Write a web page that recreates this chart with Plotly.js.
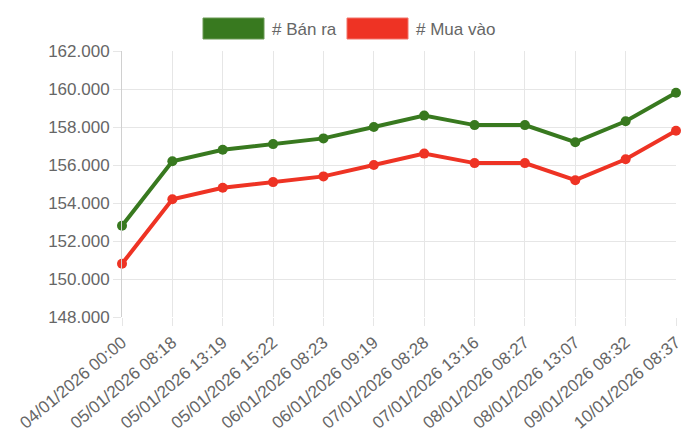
<!DOCTYPE html>
<html>
<head>
<meta charset="utf-8">
<script src="https://cdn.plot.ly/plotly-3.0.1.min.js"></script>
<style>
  html, body { margin: 0; padding: 0; background: #fff; }
  #chart_area { width: 700px; height: 440px; }
</style>
</head>
<body>
<div id="chart_area"></div>
<script>
var labels = [
  '04/01/2026 00:00', '05/01/2026 08:18', '05/01/2026 13:19', '05/01/2026 15:22',
  '06/01/2026 08:23', '06/01/2026 09:19', '07/01/2026 08:28', '07/01/2026 13:16',
  '08/01/2026 08:27', '08/01/2026 13:07', '09/01/2026 08:32', '10/01/2026 08:37'
];
var banRa = [152800, 156200, 156800, 157100, 157400, 158000, 158600, 158100, 158100, 157200, 158300, 159800];
var muaVao = [150800, 154200, 154800, 155100, 155400, 156000, 156600, 156100, 156100, 155200, 156300, 157800];
var yTicks = [148000, 150000, 152000, 154000, 156000, 158000, 160000, 162000];

var green = '#38791f';
var red = '#ee3324';

// legend drawn by hand (pixel positions converted to paper coords)
function px(x) { return (x - 122) / 554; }
function py(y) { return (440 - 123 - y) / 266; }

function draw_chart() {
  var trace0 = {
    type: 'scatter',
    mode: 'lines+markers',
    name: '# Bán ra',
    x: labels,
    y: banRa,
    line: { color: green, width: 4 },
    marker: { color: green, size: 10 },
    cliponaxis: false
  };
  var trace1 = {
    type: 'scatter',
    mode: 'lines+markers',
    name: '# Mua vào',
    x: labels,
    y: muaVao,
    line: { color: red, width: 4 },
    marker: { color: red, size: 10 },
    cliponaxis: false
  };

  var data = [ trace1, trace0 ];

  var layout = {
    width: 700,
    height: 440,
    showlegend: false,
    separators: ',.',
    font: { family: 'Liberation Sans, Arial, sans-serif', size: 17, color: '#666' },
    margin: { l: 122, r: 24, t: 51, b: 123 },
    paper_bgcolor: '#fff',
    plot_bgcolor: '#fff',
    xaxis: {
      type: 'category',
      range: [0, 11],
      showgrid: true,
      gridcolor: '#e6e6e6',
      zeroline: false,
      ticks: 'outside',
      ticklen: 8,
      tickcolor: '#e6e6e6',
      tickangle: -40,
      tickfont: { size: 17, color: '#666' },
      showline: false
    },
    yaxis: {
      range: [148000, 162000],
      tickvals: yTicks,
      tickformat: ',.0f',
      showgrid: true,
      gridcolor: '#e6e6e6',
      zeroline: false,
      ticks: 'outside',
      ticklen: 8,
      tickcolor: '#e6e6e6',
      showline: true,
      linecolor: '#d0d0d0',
      tickfont: { size: 17, color: '#666' }
    },
    shapes: [
      { type: 'rect', xref: 'paper', yref: 'paper', x0: px(203), x1: px(264), y0: py(39), y1: py(18),
        fillcolor: green, line: { color: '#6a9a55', width: 1 } },
      { type: 'rect', xref: 'paper', yref: 'paper', x0: px(347), x1: px(408), y0: py(39), y1: py(18),
        fillcolor: red, line: { color: '#f2756b', width: 1 } }
    ],
    annotations: [
      { xref: 'paper', yref: 'paper', x: px(270), y: py(29),
        xanchor: 'left', yanchor: 'middle', showarrow: false, text: '# Bán ra',
        font: { size: 17, color: '#666' } },
      { xref: 'paper', yref: 'paper', x: px(414), y: py(29),
        xanchor: 'left', yanchor: 'middle', showarrow: false, text: '# Mua vào',
        font: { size: 17, color: '#666' } }
    ]
  };

  var config = { responsive: false, displayModeBar: false, staticPlot: true };

  Plotly.newPlot('chart_area', data, layout, config);
}

draw_chart();
</script>
</body>
</html>
